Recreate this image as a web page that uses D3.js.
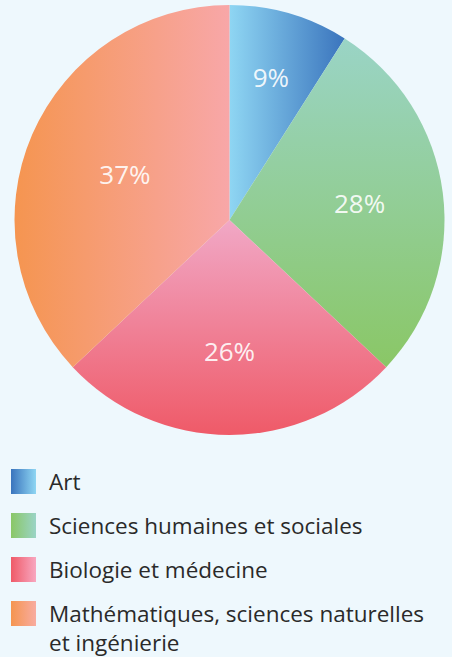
<!DOCTYPE html>
<html><head><meta charset="utf-8">
<script src="https://cdn.jsdelivr.net/npm/d3@7"></script>
<style>
html,body{margin:0;padding:0;background:#eef8fd;}
svg{display:block;}
</style></head>
<body>
<svg id="c" width="452" height="657"></svg>
<script>
const categories = ["Art", "Sciences humaines et sociales", "Biologie et médecine", "Mathématiques, sciences naturelles et ingénierie"];
const legendLines = [["Art"], ["Sciences humaines et sociales"], ["Biologie et médecine"], ["Mathématiques, sciences naturelles", "et ingénierie"]];
const values = [9, 28, 26, 37];
const labels = ["9%", "28%", "26%", "37%"];
// label placement, as a fraction of the radius (style only)
const labelRadius = [0.69, 0.61, 0.61, 0.53];
const pieGrad = [
  {from:"#8fd6f3", to:"#3a74bd", dir:"h"},
  {from:"#9ad4c6", to:"#8ac766", dir:"v"},
  {from:"#f1a8c6", to:"#ef5a68", dir:"v"},
  {from:"#f59550", to:"#f8a7a8", dir:"h"}
];
const swGrad = [
  {from:"#3a74bd", to:"#8fd6f3"},
  {from:"#8ac766", to:"#9ad4c6"},
  {from:"#ef5a68", to:"#f8a7c0"},
  {from:"#f59550", to:"#f8aca0"}
];

const svg = d3.select("#c");
const defs = svg.append("defs");
pieGrad.forEach((g,i)=>{
  const lg = defs.append("linearGradient").attr("id","pg"+i)
    .attr("x1",0).attr("y1",0)
    .attr("x2",g.dir==="h"?1:0).attr("y2",g.dir==="h"?0:1);
  lg.append("stop").attr("offset","0%").attr("stop-color",g.from);
  lg.append("stop").attr("offset","100%").attr("stop-color",g.to);
});
swGrad.forEach((g,i)=>{
  const lg = defs.append("linearGradient").attr("id","sg"+i)
    .attr("x1",0).attr("y1",0).attr("x2",1).attr("y2",0);
  lg.append("stop").attr("offset","0%").attr("stop-color",g.from);
  lg.append("stop").attr("offset","100%").attr("stop-color",g.to);
});

const cx = 229.5, cy = 220, r = 215;
const pie = d3.pie().sort(null).value(d=>d);
const arcs = pie(values);
const arc = d3.arc().innerRadius(0).outerRadius(r);

const g = svg.append("g").attr("transform",`translate(${cx},${cy})`);
g.selectAll("path").data(arcs).join("path")
  .attr("d",arc)
  .attr("fill",(d,i)=>`url(#pg${i})`);

g.selectAll("text").data(arcs).join("text")
  .attr("transform",(d,i)=>{
    const la = d3.arc().innerRadius(r*labelRadius[i]).outerRadius(r*labelRadius[i]);
    return `translate(${la.centroid(d)})`;
  })
  .attr("text-anchor","middle")
  .attr("dy","0.36em")
  .attr("font-family","'Open Sans', sans-serif")
  .attr("font-size",26)
  .attr("fill","#ffffff")
  .attr("fill-opacity",0.9)
  .text((d,i)=>labels[i]);

// legend
const leg = svg.append("g");
const items = leg.selectAll("g").data(categories).join("g")
  .attr("transform",(d,i)=>`translate(11,${469 + i*44})`);
items.append("rect").attr("width",25).attr("height",25).attr("fill",(d,i)=>`url(#sg${i})`);
items.each(function(d,i){
  const t = d3.select(this).append("text")
    .attr("font-family","'Open Sans', sans-serif")
    .attr("font-size",22.5)
    .attr("fill","#2a2a2a");
  legendLines[i].forEach((line,j)=>{
    t.append("tspan").attr("x",38).attr("y",21 + j*29).text(line);
  });
});
</script>
</body></html>
